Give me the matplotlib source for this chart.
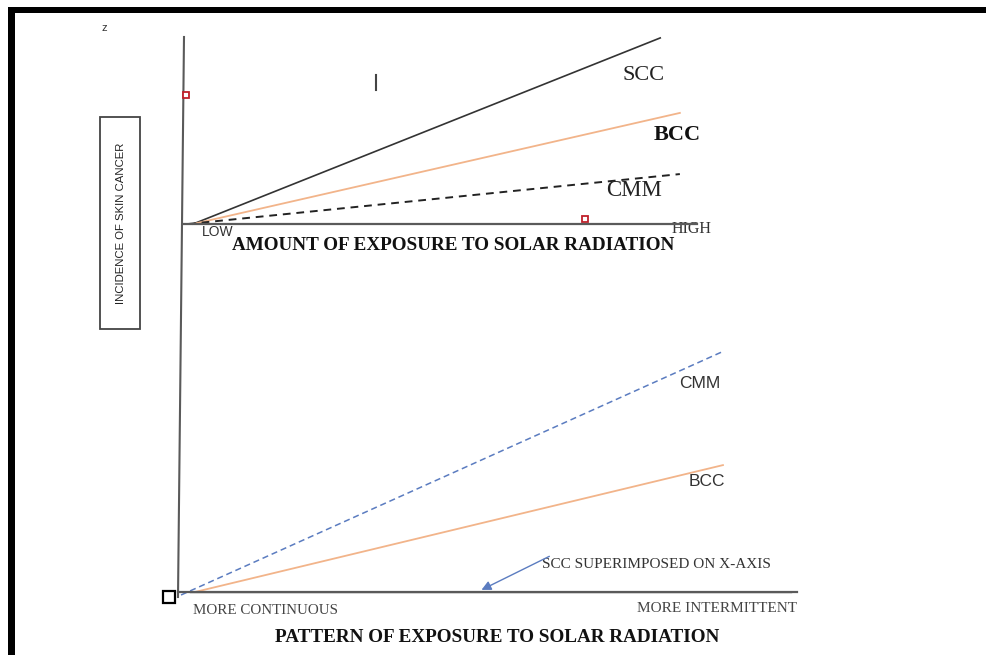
import matplotlib.pyplot as plt
from matplotlib.patches import Rectangle

W, H = 987, 655

# upper panel: amount of exposure (x) vs incidence (y)
amount_scc_x = [0.0, 9.27]
amount_scc_y = [0.0, 9.95]
amount_bcc_x = [0.0, 9.66]
amount_bcc_y = [0.0, 5.94]
amount_cmm_x = [-0.1, 9.66]
amount_cmm_y = [0.0, 2.67]
red_marks_x = [-0.14, 7.78]
red_marks_y = [6.9, 0.27]
stray_tick_x = [3.63, 3.63]
stray_tick_y = [7.17, 7.97]

# lower panel: pattern of exposure (x) vs incidence (y)
pattern_cmm_x = [-0.15, 8.76]
pattern_cmm_y = [-0.1, 8.0]
pattern_bcc_x = [0.08, 8.78]
pattern_bcc_y = [0.0, 4.23]
pattern_scc_x = [0.0, 9.9]
pattern_scc_y = [0.0, 0.0]
arrow_tip = (4.76, 0.03)
arrow_tail = (5.96, 1.23)
origin_box = (-0.35, -0.17)

SERIF = ["Liberation Serif", "DejaVu Serif"]
SANS = ["Liberation Sans", "DejaVu Sans"]
AXIS_C = "#5a5a5a"
ORANGE = "#f2b48a"
BLUE = "#5b7cc0"


def px_axes(fig, left, right, bottom, top):
    return fig.add_axes([left / W, 1 - bottom / H, (right - left) / W, (bottom - top) / H])


fig = plt.figure(figsize=(W / 100, H / 100), dpi=100)

# overlay in pixel coords for frame and labels
bg = fig.add_axes([0, 0, 1, 1])
bg.set_xlim(0, W)
bg.set_ylim(H, 0)
bg.axis("off")
bg.add_patch(Rectangle((8, 7), W - 8, 6, color="black", lw=0))
bg.add_patch(Rectangle((8, 7), 7, H - 7, color="black", lw=0))
bg.add_patch(Rectangle((100, 117), 40, 212, fill=False, ec="#444444", lw=1.3))
bg.plot([184, 178], [37, 597], color=AXIS_C, lw=1.5)

bg.text(104, 28, "z", fontsize=8, family=SANS, color="#333333", ha="center", va="center")
bg.text(121, 223, "INCIDENCE OF SKIN CANCER", rotation=90, fontsize=8.2, family=SANS,
        color="#222222", ha="center", va="center")
bg.text(202, 232, "LOW", fontsize=10, family=SANS, color="#333333", ha="left", va="center")
bg.text(672, 229, "HIGH", fontsize=11.5, family=SERIF, color="#333333", ha="left", va="center")
bg.text(453, 246, "AMOUNT OF EXPOSURE TO SOLAR RADIATION", fontsize=13.8, family=SERIF,
        weight="bold", color="#111111", ha="center", va="center")
bg.text(622, 75, "SCC", fontsize=16, family=SERIF, color="#222222", ha="left", va="center")
bg.text(654, 135, "BCC", fontsize=16, family=SERIF, weight="bold", color="#111111",
        ha="left", va="center")
bg.text(606, 190, "CMM", fontsize=16.5, family=SERIF, color="#222222", ha="left", va="center")
bg.text(679, 383, "CMM", fontsize=12.5, family=SANS, color="#333333", ha="left", va="center")
bg.text(689, 481, "BCC", fontsize=12.5, family=SANS, color="#333333", ha="left", va="center")
bg.text(542, 565, "SCC SUPERIMPOSED ON X-AXIS", fontsize=11, family=SERIF, color="#333333",
        ha="left", va="center")
bg.text(193, 611, "MORE CONTINUOUS", fontsize=10.8, family=SERIF, color="#444444",
        ha="left", va="center")
bg.text(797, 608, "MORE INTERMITTENT", fontsize=11, family=SERIF, color="#444444",
        ha="right", va="center")
bg.text(497, 638, "PATTERN OF EXPOSURE TO SOLAR RADIATION", fontsize=13.8, family=SERIF,
        weight="bold", color="#111111", ha="center", va="center")

# upper panel
ax1 = px_axes(fig, 183, 697, 224, 37)
ax1.set_xlim(-0.2, 10)
ax1.set_ylim(0, 10)
ax1.patch.set_alpha(0)
ax1.plot(amount_scc_x, amount_scc_y, color="#333333", lw=1.2, clip_on=False)
ax1.plot(amount_bcc_x, amount_bcc_y, color=ORANGE, lw=1.3, clip_on=False)
ax1.plot(amount_cmm_x, amount_cmm_y, color="#222222", lw=1.4, ls=(0, (4, 3)), clip_on=False)
ax1.plot(red_marks_x, red_marks_y, ls="none", marker="s", ms=4.5, mfc="white", mec="#c0202a",
         mew=1.3, clip_on=False)
ax1.plot(stray_tick_x, stray_tick_y, color="#444444", lw=1.5)

# lower panel
ax2 = px_axes(fig, 178, 797, 592, 292)
ax2.set_xlim(-0.2, 10)
ax2.set_ylim(0, 10)
ax2.patch.set_alpha(0)
ax2.plot(pattern_scc_x, pattern_scc_y, color=AXIS_C, lw=1.0, clip_on=False)
ax2.plot(pattern_cmm_x, pattern_cmm_y, color=BLUE, lw=1.1, ls=(0, (4, 2.5)), clip_on=False)
ax2.plot(pattern_bcc_x, pattern_bcc_y, color=ORANGE, lw=1.3, clip_on=False)
ax2.annotate("", xy=arrow_tip, xytext=arrow_tail,
             arrowprops=dict(arrowstyle="-|>", color=BLUE, lw=1.0, mutation_scale=14),
             annotation_clip=False)
ax2.plot(*origin_box, ls="none", marker="s", ms=9, mfc="white", mec="black", mew=1.6,
         clip_on=False)

for ax in (ax1, ax2):
    for side in ("top", "right", "left"):
        ax.spines[side].set_visible(False)
    ax.spines["bottom"].set_color(AXIS_C)
    ax.spines["bottom"].set_linewidth(1.6)
    ax.set_xticks([])
    ax.set_yticks([])

fig.savefig("out.png", dpi=100)
